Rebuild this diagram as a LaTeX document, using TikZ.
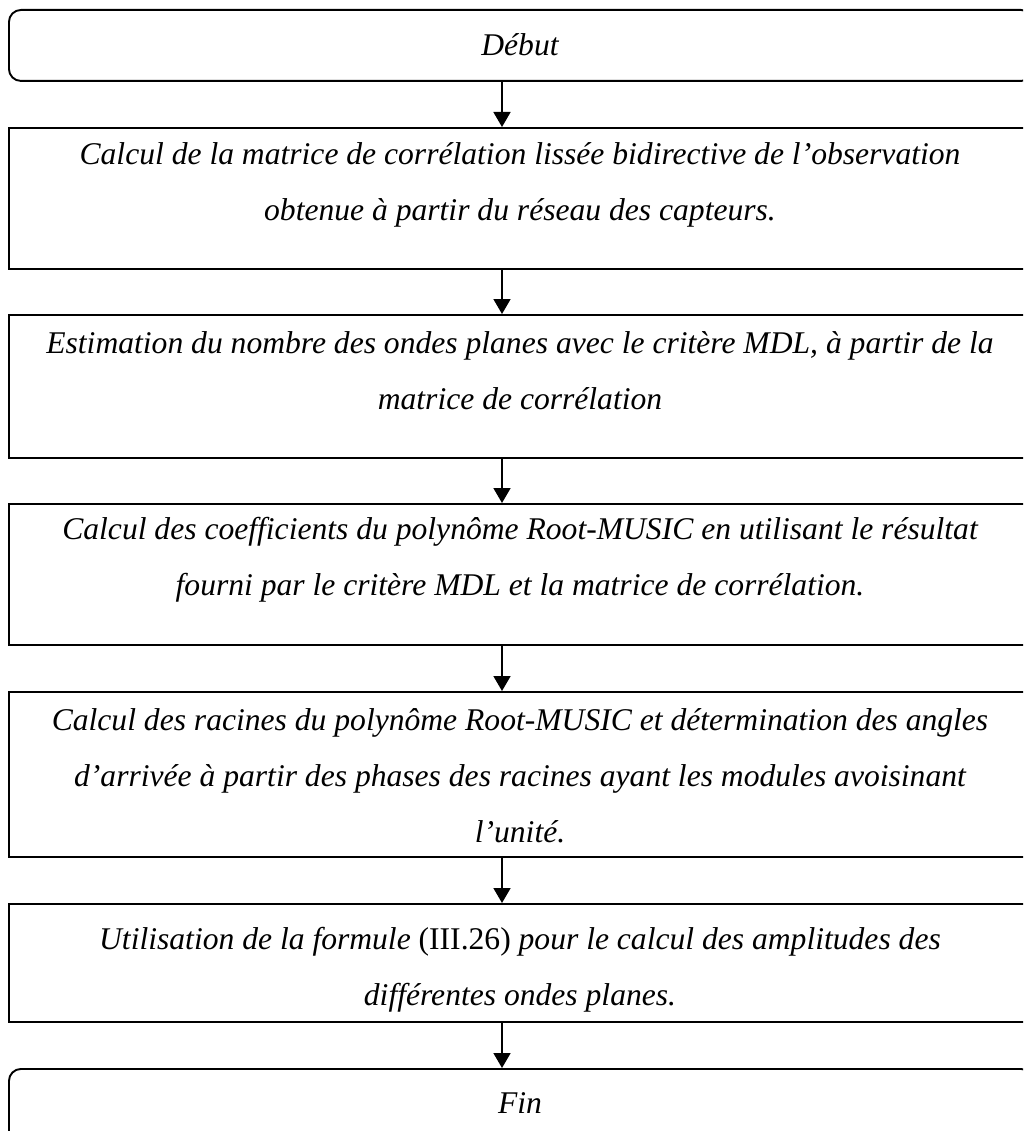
\documentclass[tikz,border=0pt]{standalone}
\usepackage{fontspec}
\setmainfont{Liberation Serif}
\usetikzlibrary{arrows.meta}
\begin{document}
\begin{tikzpicture}[x=1pt,y=1pt,
  box/.style={draw, line width=1.9pt, anchor=north west, minimum width=1024pt, inner sep=0pt},
  term/.style={box, rounded corners=12pt},
  txt/.style={anchor=base, align=center, inner sep=0pt, font=\fontsize{31.6}{56}\selectfont\itshape},
  arr/.style={line width=1.7pt, -{Triangle[width=17pt,length=15pt]}}]
\useasboundingbox (0,0) rectangle (1023,-1131);
\clip (0,0) rectangle (1023,-1131);
\node[term, minimum height=71pt] (b1) at (8,-9) {};
\node[box, minimum height=141pt] (b2) at (8,-127) {};
\node[box, minimum height=143pt] (b3) at (8,-314) {};
\node[box, minimum height=141pt] (b4) at (8,-503) {};
\node[box, minimum height=165pt] (b5) at (8,-691) {};
\node[box, minimum height=118pt] (b6) at (8,-903) {};
\node[term, minimum height=100pt] (b7) at (8,-1068) {};
\node[txt] (t1) at (520,-56) {Début};
\node[txt] (t2) at (520,-221) {Calcul de la matrice de corrélation lissée bidirective de l’observation\\obtenue à partir du réseau des capteurs.};
\node[txt] (t3) at (520,-409) {Estimation du nombre des ondes planes avec le critère MDL, à partir de la\\matrice de corrélation};
\node[txt] (t4) at (520,-595) {Calcul des coefficients du polynôme Root-MUSIC en utilisant le résultat\\fourni par le critère MDL et la matrice de corrélation.};
\node[txt] (t5) at (520,-842) {Calcul des racines du polynôme Root-MUSIC et détermination des angles\\d’arrivée à partir des phases des racines ayant les modules avoisinant\\l’unité.};
\node[txt] (t6) at (520,-1005) {Utilisation de la formule {\upshape(III.26)} pour le calcul des amplitudes des\\différentes ondes planes.};
\node[txt] (t7) at (520,-1113) {Fin};
\draw[arr] ([xshift=494pt]b1.south west) -- ([xshift=494pt]b2.north west);
\draw[arr] ([xshift=494pt]b2.south west) -- ([xshift=494pt]b3.north west);
\draw[arr] ([xshift=494pt]b3.south west) -- ([xshift=494pt]b4.north west);
\draw[arr] ([xshift=494pt]b4.south west) -- ([xshift=494pt]b5.north west);
\draw[arr] ([xshift=494pt]b5.south west) -- ([xshift=494pt]b6.north west);
\draw[arr] ([xshift=494pt]b6.south west) -- ([xshift=494pt]b7.north west);
\end{tikzpicture}
\end{document}
